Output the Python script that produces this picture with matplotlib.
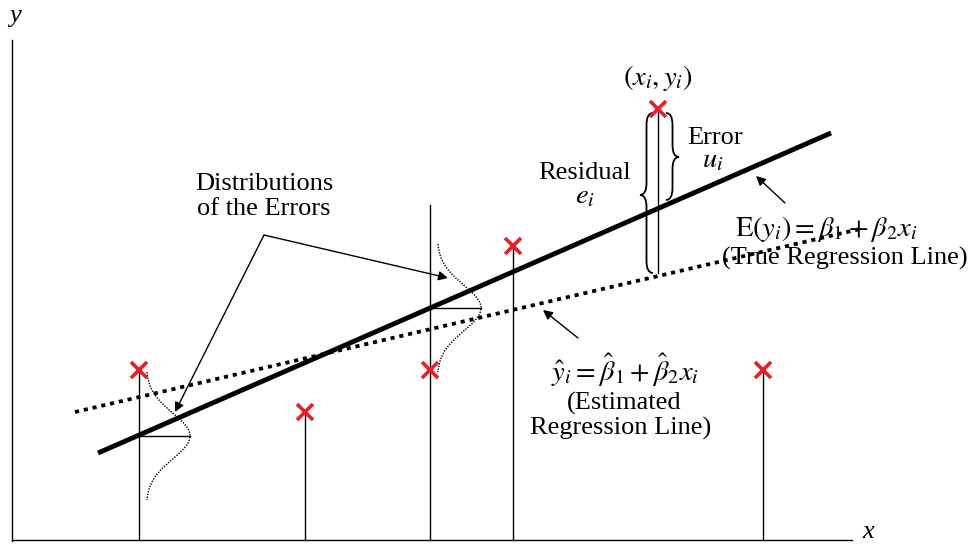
import numpy as np
import matplotlib.pyplot as plt
from matplotlib.path import Path
from matplotlib.patches import PathPatch

plt.rcParams['font.family'] = ['Liberation Serif', 'DejaVu Serif']
plt.rcParams['mathtext.fontset'] = 'stix'

# observations (pixel-like units, y grows downward)
pt_x = [139, 305, 430, 513, 658, 763]
pt_y = [370, 412, 370, 246, 109, 370]
stem_top = [370, 412, 205, 246, 109, 370]
stem_bot = [540, 540, 540, 540, 273, 540]

# true and estimated regression lines (end points)
true_x = [98, 831]
true_y = [453, 133]
est_x = [75, 860]
est_y = [412, 229]

# error distributions: x position, centre on the true line
dist_x = [139, 430]
dist_c = [436, 308]

fig = plt.figure(figsize=(9.71, 5.44), dpi=100)
ax = fig.add_axes([0, 0, 1, 1])
ax.set_xlim(0, 971)
ax.set_ylim(544, 0)
ax.axis('off')

# axes
ax.plot([12, 12], [40, 541], color='black', lw=1.0)
ax.plot([12, 852], [540, 540], color='black', lw=1.0)
ax.text(15, 22, 'y', fontsize=19, style='italic', ha='center', va='baseline')
ax.text(868, 538, 'x', fontsize=19, style='italic', ha='center', va='baseline')

# stems
for x, t, b in zip(pt_x, stem_top, stem_bot):
    ax.plot([x, x], [t, b], color='black', lw=1.0)

# regression lines
ax.plot(true_x, true_y, color='black', lw=3.5, solid_capstyle='butt')
ax.plot(est_x, est_y, color='black', lw=2.7, linestyle=(0, (1.1, 1.3)))

# distributions
d = np.linspace(-64, 64, 200)
for x0, c in zip(dist_x, dist_c):
    curve = x0 + 7 + 44 * np.exp(-d ** 2 / (2 * 23 ** 2))
    ax.plot(curve, c + d, color='black', lw=1.0, linestyle=(0, (1, 1)))
    ax.plot([x0, x0 + 51], [c, c], color='black', lw=1.0)

# red points
ax.plot(pt_x, pt_y, 'x', color='#e8202a', ms=11, mew=2.6, zorder=5)


def brace(x, y0, y1, ym, w):
    r = 12
    xm = x - w / 2
    verts = [(x, y0), (xm, y0), (xm, y0 + r),
             (xm, ym - r), (xm, ym), (x - w, ym),
             (xm, ym), (xm, ym + r),
             (xm, y1 - r), (xm, y1), (x, y1)]
    codes = [Path.MOVETO, Path.CURVE3, Path.CURVE3,
             Path.LINETO, Path.CURVE3, Path.CURVE3,
             Path.CURVE3, Path.CURVE3,
             Path.LINETO, Path.CURVE3, Path.CURVE3]
    ax.add_patch(PathPatch(Path(verts, codes), fill=False, lw=1.3, color='black'))


brace(653, 113, 273, 195, 13)
brace(666, 113, 200, 157, -13)

fs = 19
fm = 20.5
ax.text(264, 190, 'Distributions', fontsize=fs, ha='center', va='baseline')
ax.text(264, 215, 'of the Errors', fontsize=fs, ha='center', va='baseline')
ax.text(585, 179, 'Residual', fontsize=fs, ha='center', va='baseline')
ax.text(585, 203, r'$e_i$', fontsize=fm, ha='center', va='baseline')
ax.text(715, 144, 'Error', fontsize=fs, ha='center', va='baseline')
ax.text(713, 167, r'$u_i$', fontsize=fm, ha='center', va='baseline')
ax.text(658, 85, r'$(x_i, y_i)$', fontsize=fm, ha='center', va='baseline')
ax.text(826, 236, r'$\mathrm{E}(y_i) = \beta_1 + \beta_2 x_i$', fontsize=fm,
        ha='center', va='baseline')
ax.text(845, 265, '(True Regression Line)', fontsize=fs, ha='center', va='baseline')
ax.text(625, 381, r'$\hat{y}_i = \hat{\beta}_1 + \hat{\beta}_2 x_i$', fontsize=fm,
        ha='center', va='baseline')
ax.text(624, 410, '(Estimated', fontsize=fs, ha='center', va='baseline')
ax.text(621, 435, 'Regression Line)', fontsize=fs, ha='center', va='baseline')

# arrows
ap = dict(arrowstyle='-|>', color='black', lw=1.0, mutation_scale=14,
          shrinkA=0, shrinkB=0)
ax.annotate('', xy=(175, 412), xytext=(264, 235), arrowprops=ap)
ax.annotate('', xy=(448, 278), xytext=(264, 235), arrowprops=ap)
ax.annotate('', xy=(756, 176), xytext=(785, 203), arrowprops=ap)
ax.annotate('', xy=(543, 310), xytext=(578, 338), arrowprops=ap)

fig.savefig('out.png', dpi=100)
